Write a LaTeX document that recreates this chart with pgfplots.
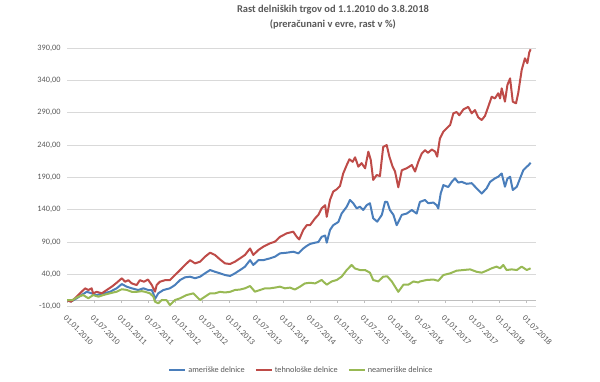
\documentclass[border=0pt]{standalone}
\usepackage{pgfplots}
\pgfplotsset{compat=1.18}
\usepackage{fontspec}
\setmainfont{Carlito}
\definecolor{cblue}{RGB}{74,126,187}
\definecolor{cred}{RGB}{190,75,72}
\definecolor{cgreen}{RGB}{152,185,84}
\definecolor{txt}{RGB}{89,89,89}
\definecolor{gridc}{RGB}{217,217,217}
\definecolor{axc}{RGB}{191,191,191}
\begin{document}
\begin{tikzpicture}
\useasboundingbox (0,0) rectangle (600bp,382bp);
\begin{axis}[
  at={(67bp,75.3bp)}, anchor=south west,
  scale only axis, width=469bp, height=258.7bp,
  xmin=0, xmax=17.37, ymin=-10, ymax=390,
  axis line style={draw=none},
  tick pos=left,
  xtick={0,...,17},
  xticklabels={01.01.2010,01.07.2010,01.01.2011,01.07.2011,01.01.2012,01.07.2012,01.01.2013,01.07.2013,01.01.2014,01.07.2014,01.01.2015,01.07.2015,01.01.2016,01.07.2016,01.01.2017,01.07.2017,01.01.2018,01.07.2018},
  xtick align=outside,
  major tick length=3bp,
  xtick style={draw=axc, line width=0.75bp, yshift=6.5bp},
  ytick={-10,40,...,390},
  yticklabels={{-10,00},{40,00},{90,00},{140,00},{190,00},{240,00},{290,00},{340,00},{390,00}},
  ytick style={draw=none},
  ymajorgrids, grid style={draw=gridc, line width=0.75bp},
  extra y ticks={0},
  extra y tick labels={},
  extra y tick style={grid style={draw=axc, line width=0.75bp}, ytick style={draw=none}},
  yticklabel style={font=\fontsize{8.3}{10}\selectfont, text=txt, xshift=-3bp},
  xticklabel style={font=\fontsize{8.3}{10}\selectfont, text=txt, rotate=-45, anchor=north west},
  title={Rast delniških trgov od 1.1.2010 do 3.8.2018\\(preračunani v evre, rast v \%)},
  title style={at={(0.567,1)}, anchor=south, yshift=9bp, font=\bfseries\fontsize{10.5}{15}\selectfont, align=center, text=txt},
  legend columns=3,
  legend style={at={(0.5,-0.245)}, anchor=center, draw=none, fill=none, font=\fontsize{8.3}{10}\selectfont, text=txt, /tikz/every even column/.append style={column sep=8bp}},
  legend image code/.code={\draw[#1, line width=2bp] (0bp,0bp) -- (16bp,0bp);},
  every axis plot/.append style={line width=2bp, line join=round},
]
\addplot[cblue] coordinates {
(0,0) (0.15,-2) (0.36,3) (0.54,8) (0.73,13) (0.91,10.7) (1.10,8) (1.34,10.7) (1.59,13) (1.84,18.4)
(2.03,25) (2.21,21) (2.40,18.4) (2.64,15.8) (2.83,18.4) (3.01,15.8) (3.14,15.8) (3.20,10) (3.26,2) (3.38,10.7)
(3.57,15.8) (3.81,18.4) (4.00,23.5) (4.19,31.3) (4.37,35.4) (4.56,36.4) (4.74,34) (4.93,36.4) (5.11,41.6) (5.30,46.7)
(5.48,44) (5.67,41.6) (5.85,39) (6.04,37.5) (6.22,41.6) (6.41,46.7) (6.59,51.8) (6.78,62) (6.90,54.5) (7.09,62)
(7.27,62) (7.52,64.8) (7.70,67.3) (7.89,72.5) (8.14,73.5) (8.38,75) (8.57,72.5) (8.75,80) (8.88,84) (9.00,87)
(9.19,89) (9.31,90) (9.43,98) (9.56,100) (9.62,89) (9.74,108.6) (9.86,116) (10.05,121) (10.17,134) (10.36,144.6)
(10.48,155) (10.60,150) (10.73,142) (10.85,144.6) (10.97,139.5) (11.10,147) (11.22,150) (11.34,126.7) (11.49,121.5) (11.66,132)
(11.78,152.3) (11.86,152) (11.96,139.5) (12.09,132) (12.21,116) (12.40,132) (12.58,134) (12.77,139.5) (12.95,134) (13.07,152)
(13.26,155) (13.38,150) (13.57,151) (13.69,147) (13.75,142) (13.84,165) (13.94,178) (14.12,175) (14.25,183) (14.37,188.5)
(14.49,182) (14.62,183) (14.80,180) (14.99,181) (15.17,173) (15.36,165) (15.54,173) (15.67,183) (15.85,188.5) (15.97,191)
(16.10,196) (16.22,175.5) (16.31,188) (16.41,191) (16.51,170.4) (16.66,175.5) (16.78,188.5) (16.90,201) (17.03,206.5) (17.10,209) (17.17,212.6)
};
\addlegendentry{ameriške delnice}
\addplot[cred] coordinates {
(0,0) (0.15,-2.3) (0.36,5.5) (0.54,13) (0.67,18.4) (0.79,15.8) (0.91,18.4) (0.97,10.7) (1.10,13) (1.29,10.7)
(1.47,15.8) (1.66,21) (1.84,27) (2.03,34) (2.15,28.6) (2.27,31) (2.40,26) (2.58,23.5) (2.70,31) (2.85,28.6)
(3.00,32) (3.14,23.5) (3.26,13.2) (3.32,23.5) (3.44,28.6) (3.63,31) (3.81,31) (4.00,39) (4.19,46.7) (4.37,54.5)
(4.56,62) (4.74,57) (4.93,59.6) (5.11,67.3) (5.30,73.5) (5.48,70) (5.67,63) (5.85,57) (6.04,56) (6.22,59.6)
(6.41,64.8) (6.59,70) (6.78,80) (6.90,70) (7.09,77.7) (7.27,82.8) (7.52,88) (7.70,90.5) (7.89,98) (8.14,103.5)
(8.38,106) (8.51,98) (8.60,94) (8.75,108.6) (8.88,116) (9.00,116) (9.19,126.7) (9.31,132) (9.43,142) (9.56,147)
(9.62,129) (9.74,155) (9.86,168) (9.99,171.5) (10.11,176.6) (10.23,196) (10.36,209) (10.46,218) (10.58,214) (10.67,221)
(10.79,206.5) (10.91,212) (11.04,204) (11.16,229.7) (11.25,217) (11.34,186) (11.47,193.6) (11.59,192) (11.71,237) (11.84,240)
(11.94,222) (12.06,206.5) (12.15,199) (12.27,174.6) (12.40,201) (12.58,204) (12.77,209) (12.89,199) (13.01,214) (13.14,227)
(13.26,232) (13.37,228) (13.51,233) (13.63,230) (13.71,222) (13.81,250) (13.94,260.6) (14.06,265.8) (14.19,271) (14.31,289)
(14.43,291) (14.53,286) (14.68,295) (14.86,299) (14.99,289) (15.11,294) (15.23,282.8) (15.36,278.6) (15.48,285) (15.60,299)
(15.73,314.7) (15.85,312) (15.97,320) (16.04,312) (16.10,327.6) (16.22,307) (16.31,332.7) (16.41,343) (16.51,307) (16.63,304.5)
(16.71,320) (16.84,356) (16.96,374) (17.05,366.5) (17.12,383) (17.17,388)
};
\addlegendentry{tehnološke delnice}
\addplot[cgreen] coordinates {
(0,0) (0.19,0) (0.42,5.5) (0.60,8) (0.79,3) (0.97,8) (1.16,5.5) (1.34,8) (1.59,10.7) (1.84,13.2)
(2.03,17) (2.21,16) (2.40,13) (2.58,13) (2.77,14) (2.89,13) (3.07,10.7) (3.20,5.5) (3.26,-2.3) (3.38,-4.8)
(3.51,0.4) (3.69,0) (3.81,-7.4) (4.00,0.4) (4.19,3) (4.43,8) (4.68,10.7) (4.80,5.5) (4.93,0.4) (5.11,5.5)
(5.30,10.7) (5.48,10.7) (5.67,13) (5.85,12) (6.04,13) (6.22,15.8) (6.41,16.5) (6.59,18.4) (6.78,22) (6.96,13.2)
(7.15,15.8) (7.33,18.4) (7.52,18.4) (7.70,19.5) (7.89,21) (8.07,18.4) (8.26,19.5) (8.44,16.5) (8.63,21) (8.81,26)
(9.00,27) (9.19,26) (9.43,31.3) (9.62,24) (9.80,29) (9.99,31.3) (10.17,36.4) (10.36,46.7) (10.54,54.5) (10.67,49)
(10.85,46.7) (11.04,46.7) (11.22,42.6) (11.34,31.3) (11.53,29) (11.71,36.4) (11.86,37) (12.03,29) (12.15,21) (12.27,13)
(12.46,24) (12.64,24) (12.83,29) (13.01,27.5) (13.07,29) (13.32,31.3) (13.57,32) (13.75,30) (13.94,39) (14.19,41.6)
(14.43,45.7) (14.68,46.7) (14.93,47.7) (15.17,44) (15.36,42.6) (15.54,45.7) (15.73,49.4) (15.91,52) (16.04,49.4) (16.16,54.5)
(16.28,46.7) (16.47,47.7) (16.66,46.7) (16.84,52) (17.03,46.7) (17.17,49.4)
};
\addlegendentry{neameriške delnice}
\end{axis}
\end{tikzpicture}
\end{document}
